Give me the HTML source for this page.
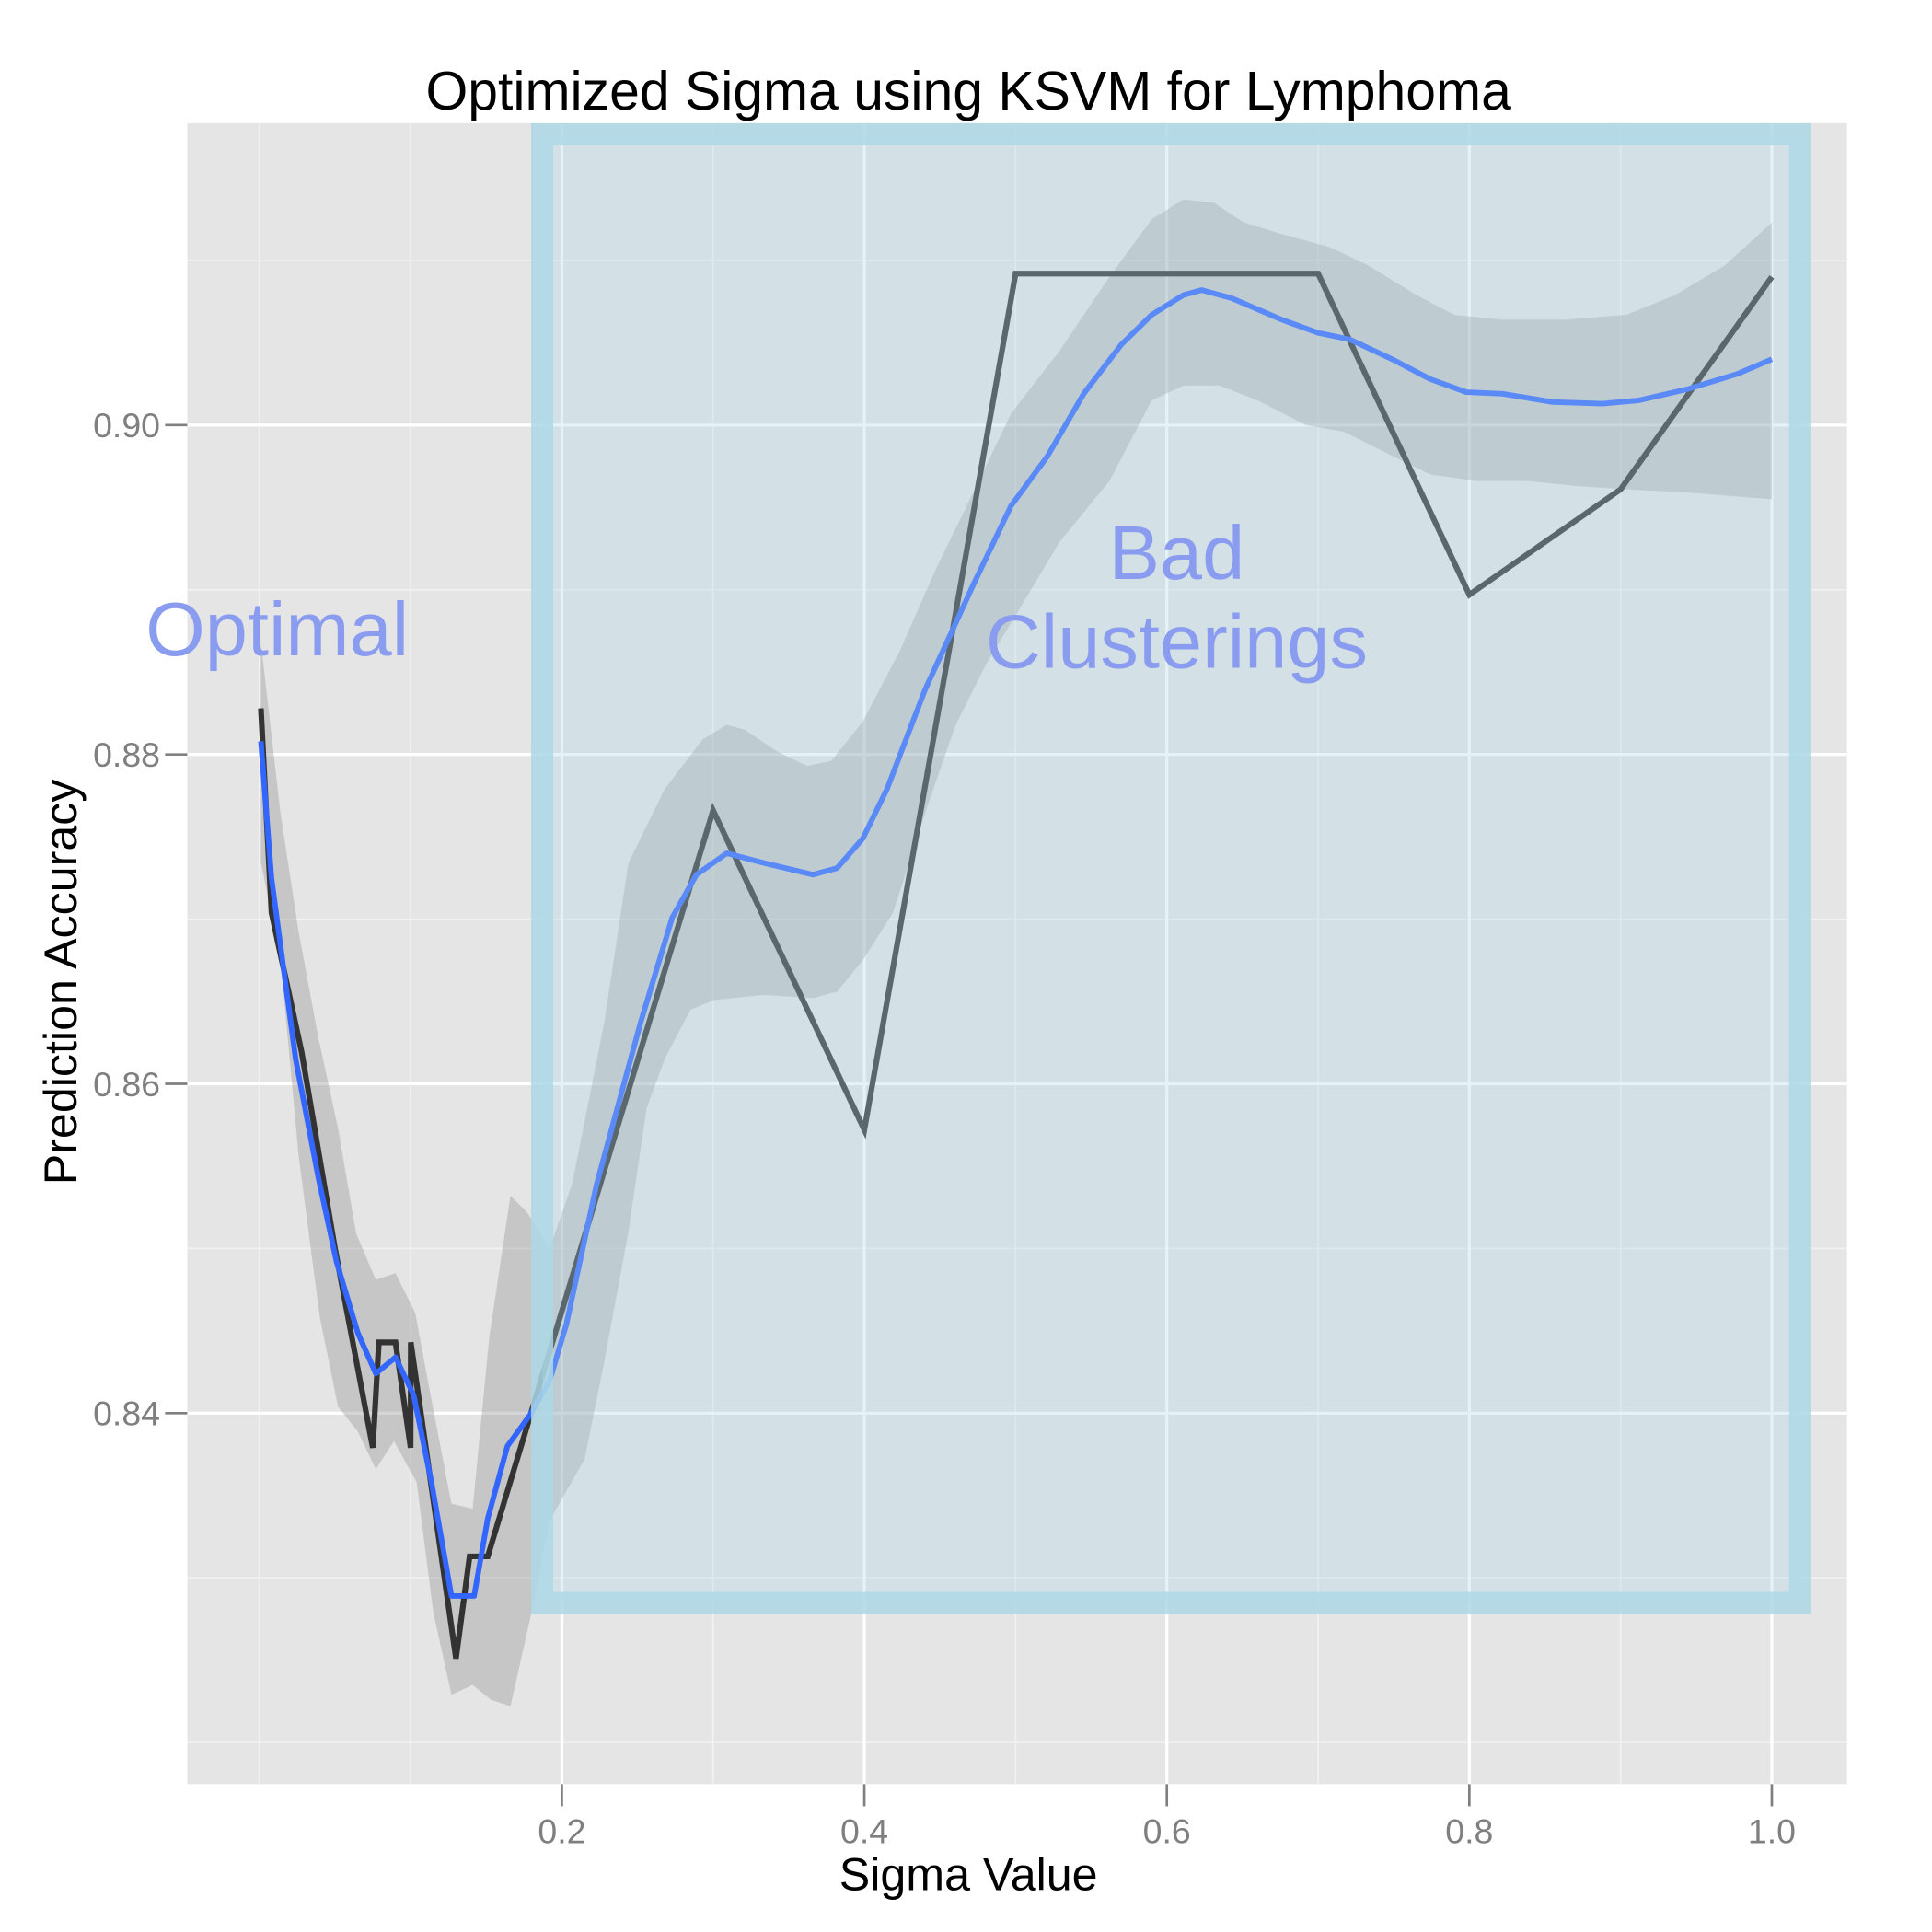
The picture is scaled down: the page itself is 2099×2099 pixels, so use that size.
<!DOCTYPE html>
<html><head><meta charset="utf-8"><style>
html,body{margin:0;padding:0;background:#fff;}
svg{display:block;font-family:"Liberation Sans",Arial,sans-serif;}
</style></head><body>
<svg id="chart" width="2099" height="2099" viewBox="0 0 1568 1568" xmlns="http://www.w3.org/2000/svg">
<rect x="152" y="100" width="1347" height="1348" fill="#e5e5e5"/>
<g id="grid"></g>
<g id="series"></g>
<rect x="440" y="109" width="1021" height="1192" fill="rgba(173,216,230,0.32)" stroke="rgba(173,216,230,0.85)" stroke-width="18"/>
<text x="225" y="532" font-size="62" fill="#8a9cf0" text-anchor="middle">Optimal</text>
<text x="955" y="470" font-size="62" fill="#8a9cf0" text-anchor="middle">Bad</text>
<text x="955" y="542" font-size="62" fill="#8a9cf0" text-anchor="middle">Clusterings</text>
<g id="axes"></g>
<text x="786" y="89" font-size="44" text-anchor="middle" fill="#000">Optimized Sigma using KSVM for Lymphoma</text>
<text x="786" y="1534" font-size="37.5" text-anchor="middle" fill="#000">Sigma Value</text>
<text x="0" y="0" font-size="37.5" text-anchor="middle" fill="#000" transform="translate(62,797) rotate(-90)">Prediction Accuracy</text>
</svg>
<script>
const xMajor=[0.2,0.4,0.6,0.8,1.0];
const xTickLabels=["0.2","0.4","0.6","0.8","1.0"];
const xMinor=[0.0,0.1,0.3,0.5,0.7,0.9];
const yMajor=[0.84,0.86,0.88,0.90];
const yTickLabels=["0.84","0.86","0.88","0.90"];
const yMinor=[0.82,0.83,0.85,0.87,0.89,0.91];
const rawSigma=[0.001,0.008,0.028,0.05,0.075,0.079,0.090,0.100,0.1001,0.130,0.139,0.151,0.3,0.4,0.5,0.7,0.8,0.9,1.0];
const rawAcc=[0.8828,0.8704,0.8619,0.8500,0.8379,0.8443,0.8443,0.8379,0.8443,0.8251,0.8313,0.8313,0.8766,0.8572,0.9092,0.9092,0.8897,0.8961,0.9090];
const smoothSigma=[0.001,0.008,0.024,0.039,0.051,0.065,0.077,0.090,0.102,0.114,0.127,0.142,0.151,0.164,0.179,0.192,0.203,0.223,0.252,0.273,0.289,0.309,0.334,0.366,0.382,0.399,0.415,0.440,0.472,0.497,0.521,0.545,0.570,0.590,0.611,0.623,0.643,0.676,0.700,0.721,0.749,0.774,0.798,0.822,0.855,0.888,0.912,0.945,0.977,1.0];
const smoothAcc=[0.8808,0.8725,0.8615,0.8543,0.8492,0.8449,0.8424,0.8434,0.8411,0.8357,0.8289,0.8289,0.8336,0.8380,0.8399,0.8420,0.8454,0.8539,0.8637,0.8701,0.8727,0.8740,0.8734,0.8727,0.8731,0.8749,0.8779,0.8839,0.8903,0.8951,0.8981,0.9019,0.9049,0.9067,0.9079,0.9082,0.9077,0.9064,0.9056,0.9052,0.9040,0.9028,0.9020,0.9019,0.9014,0.9013,0.9015,0.9022,0.9031,0.9040];
const upperSigma=[0.001,0.014,0.026,0.039,0.052,0.064,0.077,0.090,0.103,0.114,0.127,0.141,0.152,0.166,0.177,0.192,0.207,0.228,0.244,0.268,0.293,0.309,0.321,0.342,0.362,0.378,0.399,0.423,0.448,0.472,0.497,0.529,0.562,0.590,0.611,0.631,0.651,0.676,0.708,0.733,0.765,0.790,0.822,0.863,0.904,0.936,0.969,1.0];
const upperAcc=[0.8868,0.8764,0.8692,0.8628,0.8573,0.8509,0.8481,0.8485,0.8461,0.8407,0.8345,0.8342,0.8446,0.8532,0.8522,0.8500,0.8540,0.8637,0.8734,0.8779,0.8809,0.8818,0.8815,0.8802,0.8793,0.8796,0.8820,0.8862,0.8914,0.8959,0.9007,0.9045,0.9090,0.9125,0.9137,0.9135,0.9123,0.9116,0.9108,0.9097,0.9079,0.9067,0.9064,0.9064,0.9067,0.9079,0.9097,0.9123];
const lowerSigma=[0.001,0.014,0.026,0.040,0.052,0.065,0.077,0.089,0.104,0.115,0.127,0.141,0.153,0.166,0.179,0.192,0.215,0.228,0.244,0.256,0.268,0.285,0.301,0.334,0.366,0.382,0.399,0.419,0.440,0.460,0.480,0.505,0.529,0.562,0.590,0.611,0.635,0.660,0.692,0.717,0.741,0.774,0.806,0.839,0.871,0.904,0.945,1.0];
const lowerAcc=[0.8735,0.8675,0.8556,0.8458,0.8404,0.8389,0.8366,0.8383,0.8358,0.8279,0.8229,0.8235,0.8226,0.8222,0.8275,0.8335,0.8372,0.8431,0.8510,0.8585,0.8615,0.8645,0.8651,0.8654,0.8652,0.8656,0.8675,0.8704,0.8764,0.8817,0.8854,0.8892,0.8929,0.8966,0.9015,0.9024,0.9024,0.9015,0.9000,0.8996,0.8985,0.8970,0.8966,0.8966,0.8963,0.8961,0.8959,0.8955];

const NS="http://www.w3.org/2000/svg";
function sx(v){return 210.5+v*1227.5;}
function sy(v){return 345+(0.90-v)*13365;}
function mk(tag,attrs,parent){const e=document.createElementNS(NS,tag);for(const k in attrs)e.setAttribute(k,attrs[k]);parent.appendChild(e);return e;}
const grid=document.getElementById('grid');
const series=document.getElementById('series');
const axes=document.getElementById('axes');

yMinor.forEach(v=>{const l=mk('line',{x1:152,x2:1499,y1:sy(v),y2:sy(v),stroke:'#f2f2f2','stroke-width':1.2},grid);

});
xMinor.forEach(v=>{const l=mk('line',{x1:sx(v),x2:sx(v),y1:100,y2:1448,stroke:'#f2f2f2','stroke-width':1.2},grid);

});
yMajor.forEach((v,i)=>{const l=mk('line',{x1:152,x2:1499,y1:sy(v),y2:sy(v),stroke:'#fff','stroke-width':2.4},grid);


const t=mk('line',{x1:134,x2:152,y1:sy(v),y2:sy(v),stroke:'#7f7f7f','stroke-width':2},axes);


const tx=mk('text',{x:130,y:sy(v)+10,'font-size':28,'text-anchor':'end',fill:'#7f7f7f'},axes);
tx.textContent=yTickLabels[i];

});
xMajor.forEach((v,i)=>{const l=mk('line',{x1:sx(v),x2:sx(v),y1:100,y2:1448,stroke:'#fff','stroke-width':2.4},grid);


const t=mk('line',{x1:sx(v),x2:sx(v),y1:1448,y2:1466,stroke:'#7f7f7f','stroke-width':2},axes);


const tx=mk('text',{x:sx(v),y:1496,'font-size':28,'text-anchor':'middle',fill:'#7f7f7f'},axes);
tx.textContent=xTickLabels[i];

});

let rp=upperSigma.map((s,i)=>sx(s)+','+sy(upperAcc[i]));
for(let i=lowerSigma.length-1;i>=0;i--)rp.push(sx(lowerSigma[i])+','+sy(lowerAcc[i]));
const rib=mk('polygon',{points:rp.join(' '),fill:'rgba(153,153,153,0.4)'},series);


const raw=mk('polyline',{points:rawSigma.map((s,i)=>sx(s)+','+sy(rawAcc[i])).join(' '),fill:'none',stroke:'#333333','stroke-width':4.6,'stroke-linejoin':'miter'},series);


const sm=mk('polyline',{points:smoothSigma.map((s,i)=>sx(s)+','+sy(smoothAcc[i])).join(' '),fill:'none',stroke:'#3366ff','stroke-width':4.4,'stroke-linejoin':'round'},series);


</script>
</body></html>
